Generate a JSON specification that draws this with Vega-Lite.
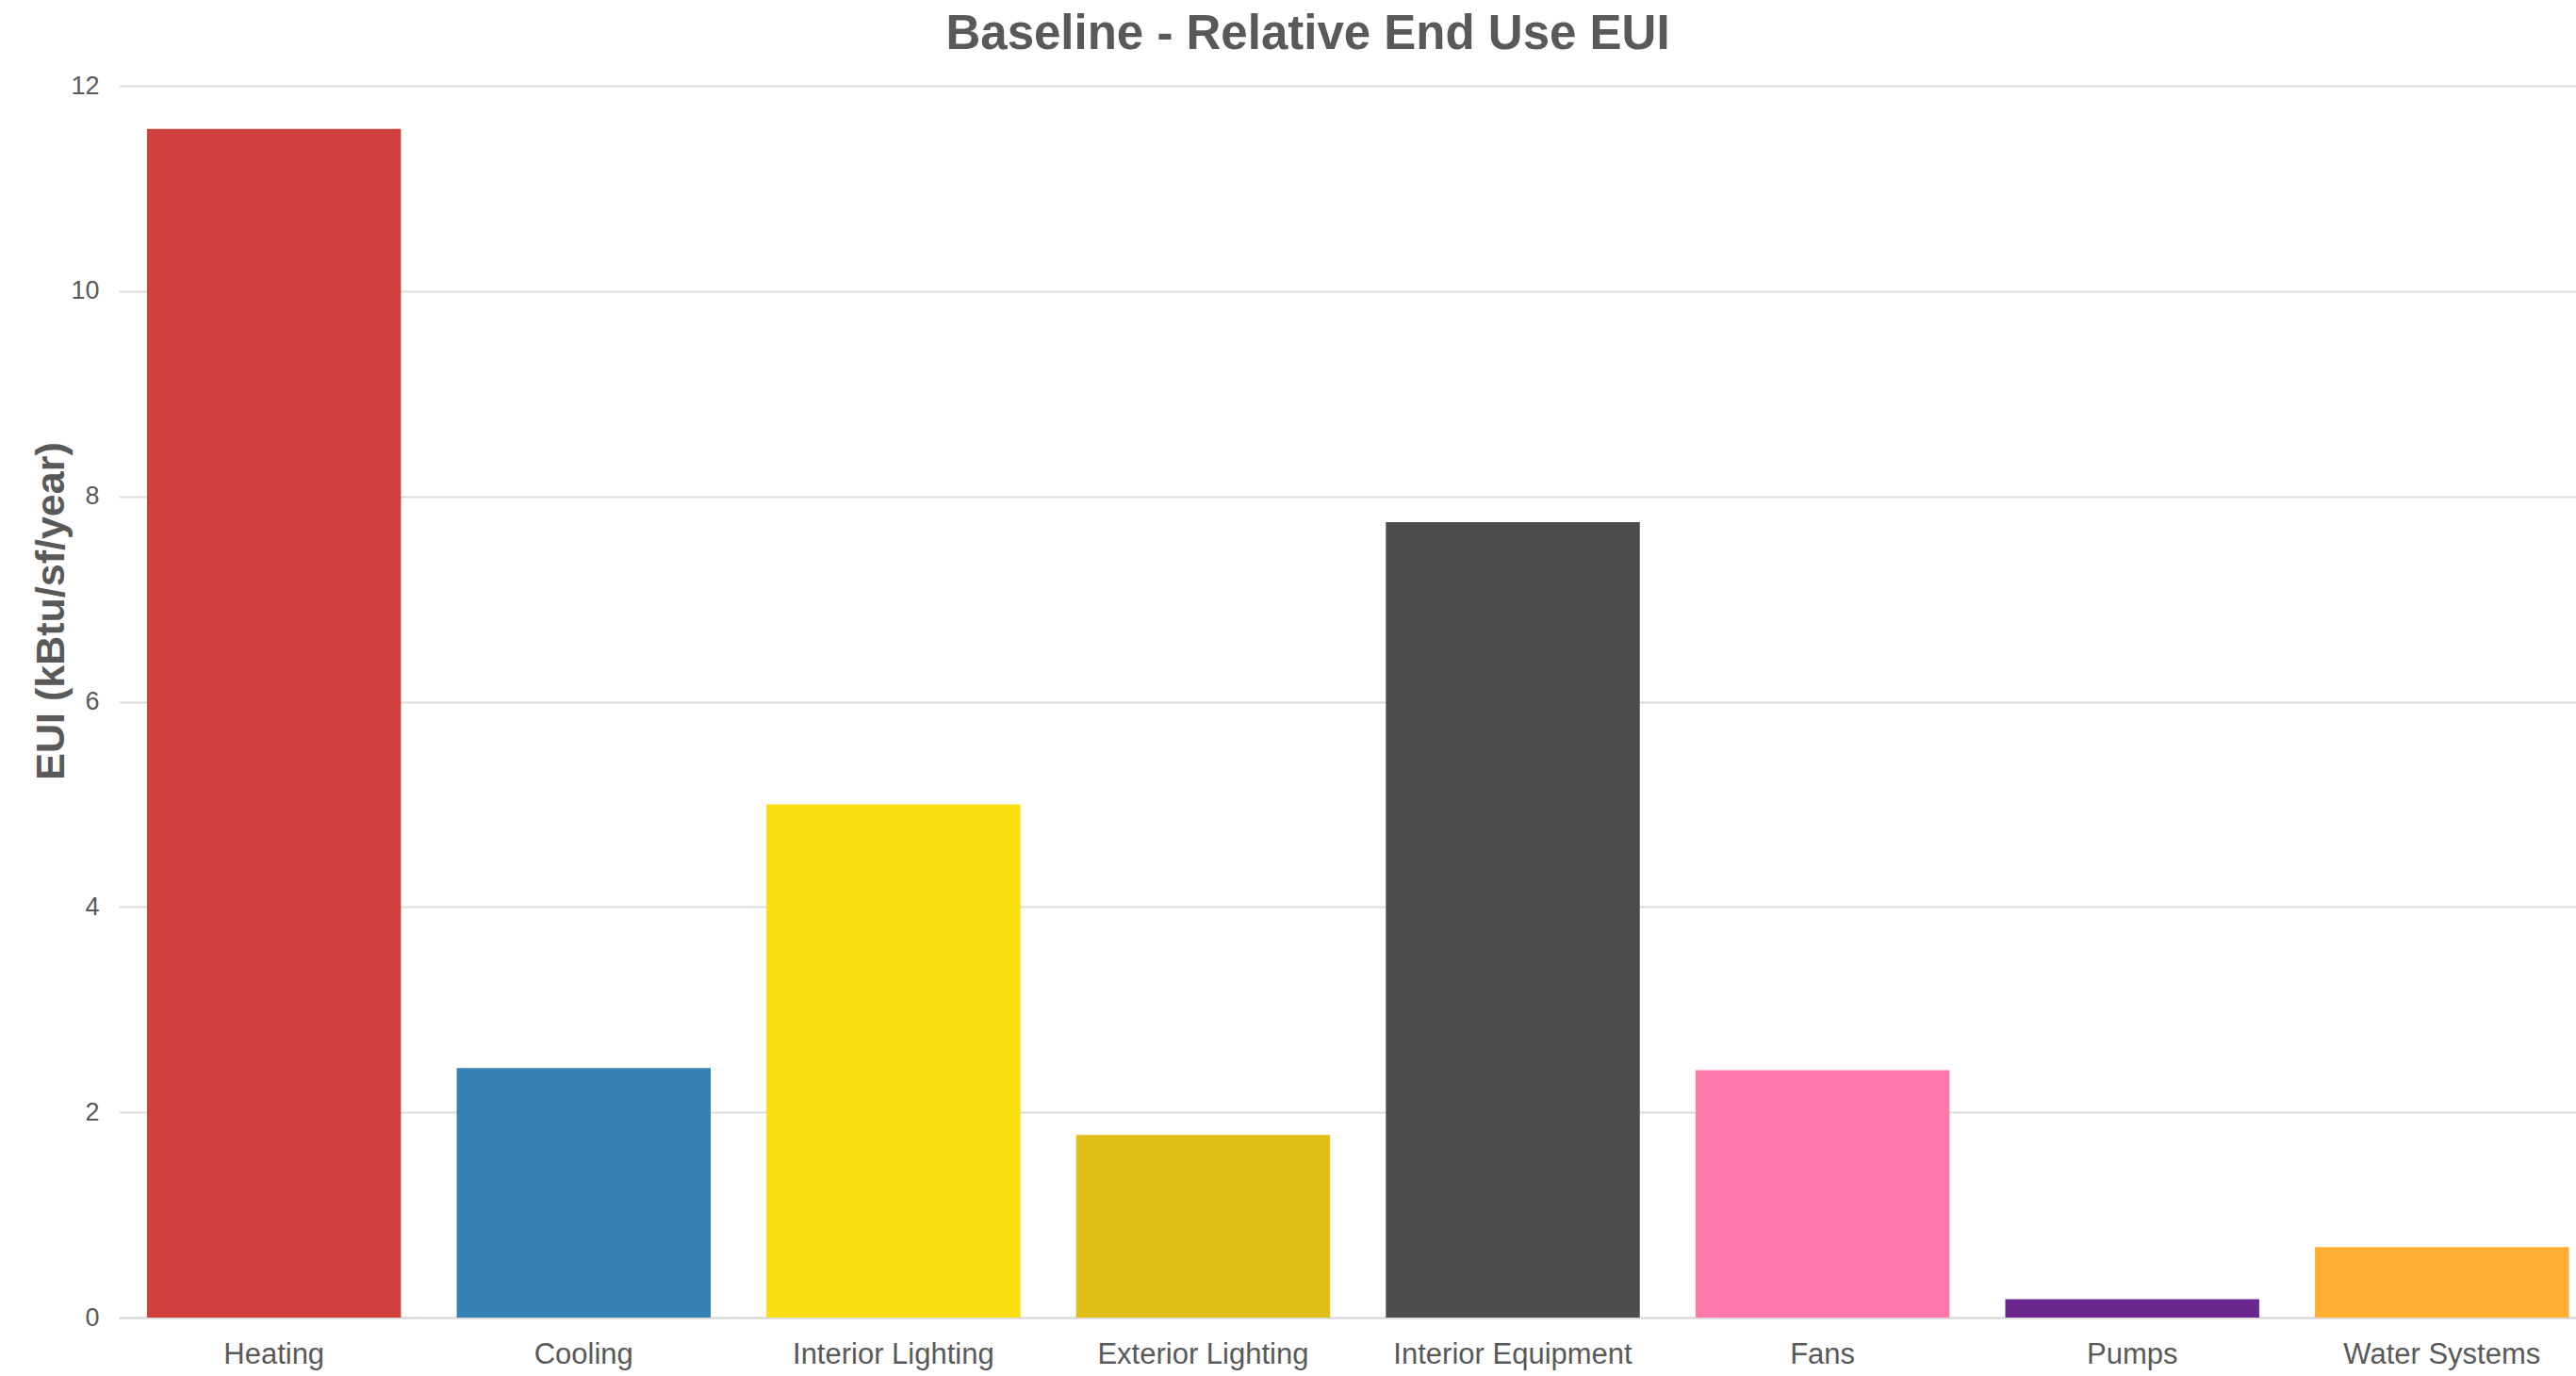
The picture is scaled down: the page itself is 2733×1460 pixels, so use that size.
{
  "$schema": "https://vega.github.io/schema/vega-lite/v6.json",
  "autosize": {"type": "none"},
  "padding": {"left": 126, "top": 91, "right": 0, "bottom": 62},
  "width": 2607,
  "height": 1307,
  "background": "white",
  "title": {
    "text": "Baseline - Relative End Use EUI",
    "font": "Liberation Sans",
    "fontSize": 51,
    "fontWeight": "bold",
    "color": "#595959",
    "anchor": "middle",
    "frame": "group",
    "dx": -42,
    "dy": 52,
    "baseline": "alphabetic",
    "offset": 26
  },
  "data": {
    "values": [
      {"category": "Heating", "eui": 11.58, "color": "#D0413E"},
      {"category": "Cooling", "eui": 2.43, "color": "#3581B3"},
      {"category": "Interior Lighting", "eui": 5.0, "color": "#F7DF10"},
      {"category": "Exterior Lighting", "eui": 1.78, "color": "#E0BE17"},
      {"category": "Interior Equipment", "eui": 7.75, "color": "#4C4E4B"},
      {"category": "Fans", "eui": 2.41, "color": "#FE79AA"},
      {"category": "Pumps", "eui": 0.18, "color": "#6A288E"},
      {"category": "Water Systems", "eui": 0.686, "color": "#FFAE33"}
    ]
  },
  "mark": {"type": "bar"},
  "encoding": {
    "x": {
      "field": "category",
      "type": "nominal",
      "sort": null,
      "scale": {"paddingInner": 0.18, "paddingOuter": 0.057, "align": 0.8},
      "axis": {
        "title": null,
        "labelAngle": 0,
        "labelFont": "Liberation Sans",
        "labelFontSize": 31,
        "labelColor": "#595959",
        "labelBaseline": "alphabetic",
        "labelPadding": 48,
        "labelLimit": 0,
        "labelOverlap": false,
        "ticks": false,
        "tickSize": 0,
        "domain": true,
        "domainColor": "#D9D9D9",
        "domainWidth": 2,
        "grid": false
      }
    },
    "y": {
      "field": "eui",
      "type": "quantitative",
      "scale": {"domain": [0, 12], "nice": false},
      "axis": {
        "title": "EUI (kBtu/sf/year)",
        "titleFont": "Liberation Sans",
        "titleFontSize": 43,
        "titleFontWeight": "bold",
        "titleColor": "#595959",
        "titleAngle": -90,
        "titleAlign": "center",
        "titleBaseline": "middle",
        "titleX": -72,
        "titleY": 557,
        "values": [0, 2, 4, 6, 8, 10, 12],
        "labelFont": "Liberation Sans",
        "labelFontSize": 27,
        "labelColor": "#595959",
        "labelPadding": 21,
        "ticks": false,
        "tickSize": 0,
        "domain": false,
        "grid": true,
        "gridColor": "#DCDCDC",
        "gridWidth": 2
      }
    },
    "color": {"field": "color", "type": "nominal", "scale": null, "legend": null}
  },
  "config": {"view": {"stroke": null}}
}
